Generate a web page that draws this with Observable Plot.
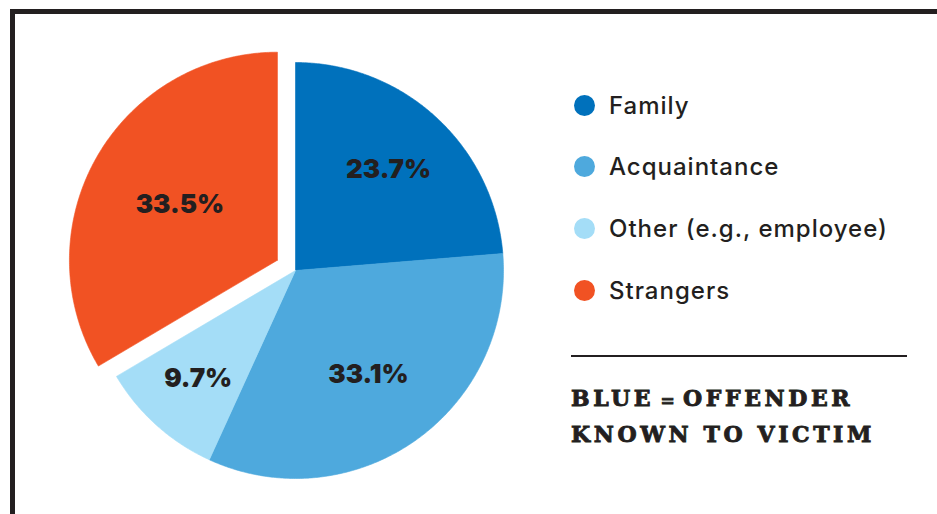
<!DOCTYPE html>
<html>
<head>
<meta charset="utf-8">
<script src="https://cdn.jsdelivr.net/npm/d3@7"></script>
<script src="https://cdn.jsdelivr.net/npm/@observablehq/plot@0.6"></script>
<style>
  html, body { margin: 0; padding: 0; background: #fff; }
  #wrap { position: relative; width: 937px; height: 514px; overflow: hidden; font-family: Inter, "Open Sans", sans-serif; color: #231f20; }
  #chart { position: absolute; left: 0; top: 0; }
  #frame { position: absolute; left: 10px; top: 9px; right: -10px; bottom: -10px; border-top: 5px solid #231f20; border-left: 5px solid #231f20; }
  #legend { position: absolute; left: 574px; top: 0; }
  .row { position: absolute; left: 0; height: 40px; display: flex; align-items: center; white-space: nowrap; font-size: 24px; font-weight: 500; letter-spacing: 1px; }
  .dot { width: 21px; height: 21px; border-radius: 50%; margin-right: 14px; }
  #rule { position: absolute; left: 571px; top: 355px; width: 336px; height: 1.5px; background: #231f20; }
  #note { position: absolute; left: 571px; top: 380px; font-family: "DejaVu Serif", serif; font-weight: bold; font-size: 22px; letter-spacing: 3.6px; white-space: nowrap; -webkit-text-stroke: 0.9px #231f20; }
  #note > div { height: 36px; line-height: 36px; overflow: visible; }
  #note .l1 { word-spacing: -5px; }
  #note .eq { font-size: 17px; line-height: 0; letter-spacing: 2px; }
</style>
</head>
<body>
<div id="wrap">
  <div id="chart"></div>
  <div id="frame"></div>
  <div id="legend"></div>
  <div id="rule"></div>
  <div id="note"></div>
</div>
<script>
// ---- data ----
const categories = ["Family", "Acquaintance", "Other (e.g., employee)", "Strangers"];
const shares = [23.7, 33.1, 9.7, 33.5];
const valueLabels = ["23.7%", "33.1%", "9.7%", "33.5%"];
const colors = ["#0071bc", "#4ea9dd", "#a4ddf7", "#f15223"];
const exploded = ["Strangers"];
const noteLines = ["BLUE = OFFENDER", "KNOWN TO VICTIM"];

// ---- layout (pixels / fractions of radius) ----
const W = 937, H = 514, CX = 295, CY = 270, R = 208;
const explodeAmount = 0.1;
const labelRadius = {"Family": 0.66, "Acquaintance": 0.61, "Other (e.g., employee)": 0.70, "Strangers": 0.54};

// pie geometry in unit-circle coordinates
const arcs = d3.pie().sort(null).value(d => d)(shares);
const outline = [];
const labelPts = [];
arcs.forEach((a, i) => {
  const cat = categories[i];
  const mid = (a.startAngle + a.endAngle) / 2;
  const off = exploded.includes(cat) ? explodeAmount : 0;
  const ox = off * Math.sin(mid), oy = off * Math.cos(mid);
  outline.push({cat, x: ox, y: oy});
  const steps = Math.max(2, Math.ceil((a.endAngle - a.startAngle) / (Math.PI / 360)));
  for (let k = 0; k <= steps; k++) {
    const t = a.startAngle + (a.endAngle - a.startAngle) * k / steps;
    outline.push({cat, x: ox + Math.sin(t), y: oy + Math.cos(t)});
  }
  outline.push({cat, x: ox, y: oy});
  const lr = labelRadius[cat];
  labelPts.push({cat, label: valueLabels[i], x: ox + lr * Math.sin(mid), y: oy + lr * Math.cos(mid)});
});

const plot = Plot.plot({
  width: W, height: H,
  margin: 0,
  x: {domain: [-CX / R, (W - CX) / R], range: [0, W], axis: null},
  y: {domain: [-(H - CY) / R, CY / R], range: [H, 0], axis: null},
  color: {domain: categories, range: colors},
  style: {background: "transparent"},
  marks: [
    Plot.line(outline, {x: "x", y: "y", z: "cat", fill: "cat", stroke: "cat", strokeWidth: 0.6, curve: "linear"}),
    Plot.text(labelPts, {x: "x", y: "y", text: "label", fill: "#231f20", fontSize: 26, fontWeight: 900, fontFamily: "Inter, sans-serif"})
  ]
});
document.getElementById("chart").appendChild(plot);

// legend
const legend = document.getElementById("legend");
categories.forEach((c, i) => {
  const row = document.createElement("div");
  row.className = "row";
  row.style.top = (105 + i * 61.7 - 20) + "px";
  const dot = document.createElement("div");
  dot.className = "dot";
  dot.style.background = colors[i];
  const txt = document.createElement("span");
  txt.textContent = c;
  row.appendChild(dot); row.appendChild(txt);
  legend.appendChild(row);
});

// note
const note = document.getElementById("note");
noteLines.forEach((line, i) => {
  const div = document.createElement("div");
  div.className = "l" + (i + 1);
  line.split(/(=)/).forEach(part => {
    const s = document.createElement("span");
    if (part === "=") s.className = "eq";
    s.textContent = part;
    div.appendChild(s);
  });
  note.appendChild(div);
});
</script>
</body>
</html>
